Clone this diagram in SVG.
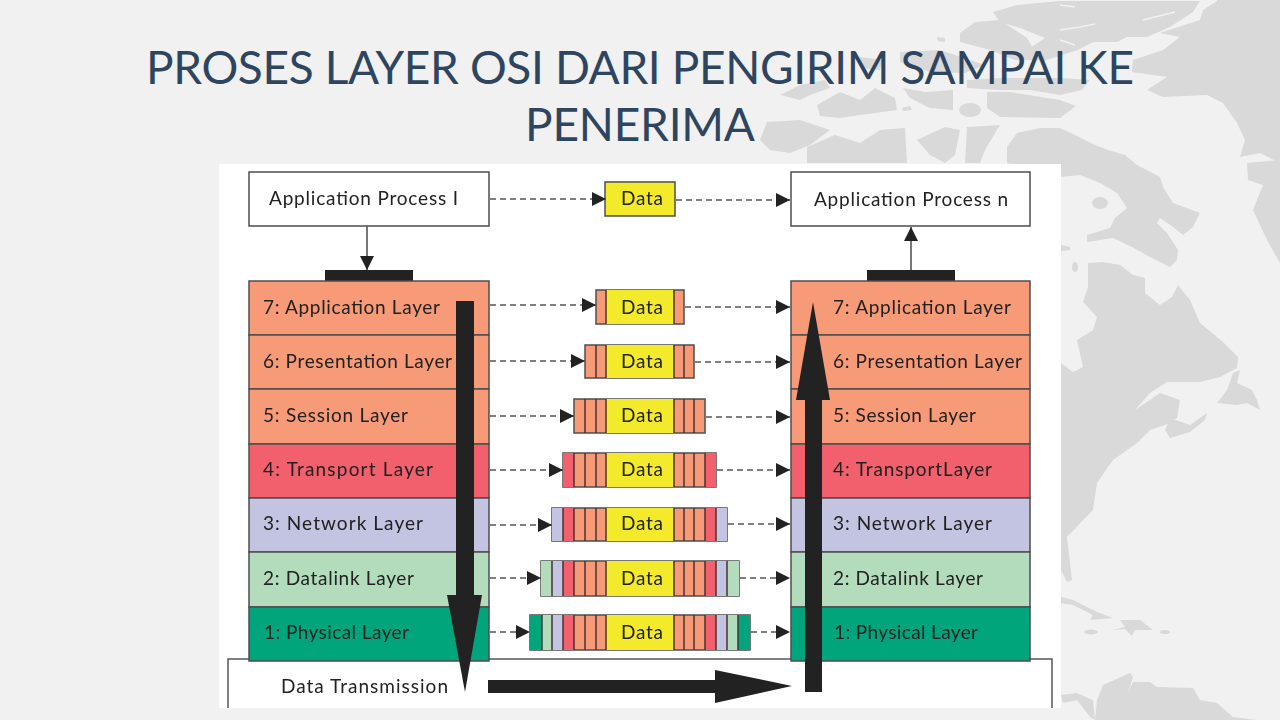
<svg xmlns="http://www.w3.org/2000/svg" width="1280" height="720" viewBox="0 0 1280 720">
<style>
.land{fill:#d9d9d9}
.chan{fill:none;stroke:#f1f1f1;stroke-width:1.5}
.ttl{font-family:Lato,"Liberation Sans",sans-serif;font-size:46px;fill:#2e4560}
.t{font-family:Lato,"Liberation Sans",sans-serif;font-size:19px;fill:#222}
.box{stroke:#4d4d4d;stroke-width:1.5}
.dash{stroke:#555;stroke-width:1.6;stroke-dasharray:6 4;fill:none}
.solid{stroke:#555;stroke-width:1.6;fill:none}
.div{stroke:#4a3230;stroke-width:1.5}
.big{fill:#222}
.o{fill:#f79a78}.r{fill:#f1606c}.p{fill:#c2c4e2}.g{fill:#b2dcbc}.e{fill:#04a57c}.y{fill:#f2ea2a}
</style>
<defs>
<marker id="ah" viewBox="0 0 14 14" refX="14" refY="7" markerWidth="14" markerHeight="14" markerUnits="userSpaceOnUse" orient="auto"><path d="M0 0L14 7L0 14Z" fill="#222"/></marker>
<filter id="soft" filterUnits="userSpaceOnUse" x="0" y="0" width="1280" height="720"><feGaussianBlur stdDeviation="0.5"/></filter>
</defs>
<rect width="1280" height="720" fill="#f1f1f1"/>
<g id="map" filter="url(#soft)">
<path class="land" d="M993 12L1017 5L1060 1L1200 1L1193 12L1170 27L1147 37L1127 37L1117 42L1093 42L1078 50L1040 62L1030 48L1045 38L1020 28L1000 22Z"/>
<path class="land" d="M960 33L975 22L1000 20L1027 38L1040 60L1015 60L990 50L960 42Z"/>
<path class="land" d="M1217 1L1203 10L1200 20L1160 33L1180 37L1163 50L1133 60L1132 72L1167 77L1147 90L1163 97L1207 95L1223 103L1237 123L1245 140L1240 157L1260 153L1280 163V0H1217Z"/>
<path class="land" d="M1280 160L1247 163L1248 180L1263 185L1253 210L1267 240L1280 263Z"/>
<path class="land" d="M967 80L1000 78L1060 78L1090 80L1082 90L1060 95L1030 90L1000 90L967 88Z"/>
<path class="land" d="M987 92L1010 92L1060 100L1076 106L1060 118L1000 117L987 108Z"/>
<path class="land" d="M900 52L940 50L985 65L965 73L930 72L900 62Z"/>
<path class="land" d="M860 57L883 60L880 70L860 68Z"/>
<path class="land" d="M937 37L945 38L945 42L938 41Z"/>
<ellipse class="land" cx="970" cy="110" rx="11" ry="7"/>
<path class="land" d="M903 88L925 92L953 90L953 110L930 108L910 98Z"/>
<path class="land" d="M817 105L840 92L860 100L875 88L895 98L897 110L860 115L840 118L820 116Z"/>
<path class="land" d="M780 95L800 85L825 80L830 88L810 95L800 100Z"/>
<path class="land" d="M902 108L910 106L912 110L903 111Z"/>
<path class="land" d="M767 122L800 120L830 130L810 145L790 153L770 150L760 140Z"/>
<path class="land" d="M807 147L835 135L860 143L880 130L905 128L907 163L807 163Z"/>
<path class="land" d="M917 140L945 127L960 130L955 155L945 163L930 155Z"/>
<path class="land" d="M967 127L1000 125L985 150L980 163L965 163Z"/>
<path class="land" d="M1007 147L1017 133L1040 128L1060 128L1075 135L1095 145L1108 150L1125 155L1137 165L1160 177L1163 187L1173 203L1200 213L1193 227L1183 235L1173 227L1160 218L1157 223L1167 233L1178 250L1177 260L1170 267L1150 257L1132 247L1113 238L1087 242L1087 235L1110 228L1115 218L1127 208L1117 193L1100 183L1080 175L1060 177L1040 170L1007 163Z"/>
<ellipse class="land" cx="1100" cy="203" rx="8" ry="6"/>
<path class="land" d="M1061 245L1070 247L1070 250L1061 251Z"/>
<ellipse class="land" cx="1075" cy="267" rx="3" ry="5"/>
<path class="land" d="M1088 263L1103 262L1120 265L1133 275L1145 278L1145 293L1160 305L1172 297L1178 285L1190 300L1200 323L1223 342L1238 357L1237 368L1220 377L1200 382L1167 382L1150 393L1135 410L1160 393L1180 400L1177 418L1165 425L1150 430L1137 443L1113 460L1097 483L1093 510L1067 537L1072 580L1067 582L1061 570V363L1073 372L1083 367L1077 340L1093 330L1097 317L1083 302L1088 287Z"/>
<path class="land" d="M1170 418L1190 425L1207 413L1205 420L1190 432L1170 438L1165 430Z"/>
<path class="land" d="M1217 403L1227 390L1233 373L1240 370L1237 383L1252 390L1257 400L1260 410L1247 403L1237 405Z"/>
<path class="land" d="M1061 597L1073 600L1097 612L1113 618L1090 620L1093 615L1073 605L1061 603Z"/>
<ellipse class="land" cx="1091" cy="632" rx="7" ry="2.5"/>
<path class="land" d="M1120 620L1140 620L1153 630L1135 630L1132 636L1125 629L1112 630L1125 627Z"/>
<ellipse class="land" cx="1165" cy="632" rx="5" ry="2"/>
<path class="land" d="M1095 720L1097 700L1103 685L1130 673L1133 677L1128 693L1133 682L1150 682L1157 687L1193 688L1200 700L1217 703L1233 717L1257 720Z"/>
<path class="land" d="M1061 695L1077 693L1093 700L1095 720L1090 717L1077 700L1063 703Z"/>
<path class="chan" d="M1060 30L1080 27L1095 24M1060 5L1075 7M1143 20L1175 12M1060 40L1075 45"/>
</g>
<g id="title">
<text class="ttl" x="146" y="84" textLength="988">PROSES LAYER OSI DARI PENGIRIM SAMPAI KE</text>
<text class="ttl" x="525" y="141" textLength="230">PENERIMA</text>
</g>
<g id="diagram" filter="url(#soft)">
<rect id="panel" x="219" y="164" width="842" height="544" fill="#fff"/>
<g id="data-transmission">
<path d="M228 708V659H1052V708" fill="#fff" stroke="#555" stroke-width="1.5"/>
<text class="t" x="281" y="693" textLength="167">Data Transmission</text>
</g>
<g id="app-process-1"><rect class="box" x="249" y="172" width="240" height="54" fill="#fff"/><text class="t" x="269" y="205" textLength="189">Application Process I</text></g>
<g id="app-process-n"><rect class="box" x="791" y="172" width="239" height="54" fill="#fff"/><text class="t" x="814" y="206" textLength="194">Application Process n</text></g>
<g id="sender-cap"><rect x="325" y="270" width="88" height="11" fill="#222"/></g>
<g id="receiver-cap"><rect x="867" y="270" width="88" height="11" fill="#222"/></g>
<g id="left-stack">
<g id="l7"><rect class="box o" x="249" y="281" width="240" height="54"/><text class="t" x="263" y="314" textLength="177">7: Application Layer</text></g>
<g id="l6"><rect class="box o" x="249" y="335" width="240" height="54"/><text class="t" x="263" y="368" textLength="189">6: Presentation Layer</text></g>
<g id="l5"><rect class="box o" x="249" y="389" width="240" height="55"/><text class="t" x="263" y="422" textLength="145">5: Session Layer</text></g>
<g id="l4"><rect class="box r" x="249" y="444" width="240" height="54"/><text class="t" x="263" y="476" textLength="170">4: Transport Layer</text></g>
<g id="l3"><rect class="box p" x="249" y="498" width="240" height="54"/><text class="t" x="263" y="530" textLength="160">3: Network Layer</text></g>
<g id="l2"><rect class="box g" x="249" y="552" width="240" height="55"/><text class="t" x="263" y="585" textLength="151">2: Datalink Layer</text></g>
<g id="l1"><rect class="box e" x="249" y="607" width="240" height="54"/><text class="t" x="264" y="639" textLength="145">1: Physical Layer</text></g>
</g>
<g id="right-stack">
<g id="r7"><rect class="box o" x="791" y="281" width="239" height="54"/><text class="t" x="833" y="314" textLength="178">7: Application Layer</text></g>
<g id="r6"><rect class="box o" x="791" y="335" width="239" height="54"/><text class="t" x="833" y="368" textLength="189">6: Presentation Layer</text></g>
<g id="r5"><rect class="box o" x="791" y="389" width="239" height="55"/><text class="t" x="833" y="422" textLength="143">5: Session Layer</text></g>
<g id="r4"><rect class="box r" x="791" y="444" width="239" height="54"/><text class="t" x="833" y="476" textLength="159">4: TransportLayer</text></g>
<g id="r3"><rect class="box p" x="791" y="498" width="239" height="54"/><text class="t" x="833" y="530" textLength="159">3: Network Layer</text></g>
<g id="r2"><rect class="box g" x="791" y="552" width="239" height="55"/><text class="t" x="833" y="585" textLength="150">2: Datalink Layer</text></g>
<g id="r1"><rect class="box e" x="791" y="607" width="239" height="54"/><text class="t" x="834" y="639" textLength="144">1: Physical Layer</text></g>
</g>
<g id="data-top"><rect class="box y" x="605" y="182" width="70" height="34"/><text class="t" x="621" y="205" textLength="42">Data</text></g>
<g id="data-7">
<rect class="box o" x="596" y="290" width="88" height="34"/><rect class="y" x="606" y="290" width="68" height="34"/>
<path class="div" d="M606 290v34M674 290v34"/><text class="t" x="621" y="314" textLength="42">Data</text></g>
<g id="data-6">
<rect class="box o" x="585" y="345" width="109" height="33"/><rect class="y" x="606" y="345" width="68" height="33"/>
<path class="div" d="M596 345v33M606 345v33M674 345v33M684 345v33"/><text class="t" x="621" y="368" textLength="42">Data</text></g>
<g id="data-5">
<rect class="box o" x="574" y="399" width="131" height="34"/><rect class="y" x="606" y="399" width="68" height="34"/>
<path class="div" d="M585 399v34M596 399v34M606 399v34M674 399v34M684 399v34M694 399v34"/><text class="t" x="621" y="422" textLength="42">Data</text></g>
<g id="data-4">
<rect class="box o" x="563" y="453" width="153" height="34"/><rect class="r" x="563" y="453" width="11" height="34"/><rect class="r" x="705" y="453" width="11" height="34"/><rect class="y" x="606" y="453" width="68" height="34"/>
<path class="div" d="M574 453v34M585 453v34M596 453v34M606 453v34M674 453v34M684 453v34M694 453v34M705 453v34"/><text class="t" x="621" y="476" textLength="42">Data</text></g>
<g id="data-3">
<rect class="box o" x="552" y="508" width="175" height="33"/><rect class="p" x="552" y="508" width="11" height="33"/><rect class="r" x="563" y="508" width="11" height="33"/><rect class="r" x="705" y="508" width="11" height="33"/><rect class="p" x="716" y="508" width="11" height="33"/><rect class="y" x="606" y="508" width="68" height="33"/>
<path class="div" d="M563 508v33M574 508v33M585 508v33M596 508v33M606 508v33M674 508v33M684 508v33M694 508v33M705 508v33M716 508v33"/><text class="t" x="621" y="530" textLength="42">Data</text></g>
<g id="data-2">
<rect class="box o" x="541" y="561" width="198" height="35"/><rect class="g" x="541" y="561" width="11" height="35"/><rect class="p" x="552" y="561" width="11" height="35"/><rect class="r" x="563" y="561" width="11" height="35"/><rect class="r" x="705" y="561" width="11" height="35"/><rect class="p" x="716" y="561" width="11" height="35"/><rect class="g" x="727" y="561" width="12" height="35"/><rect class="y" x="606" y="561" width="68" height="35"/>
<path class="div" d="M552 561v35M563 561v35M574 561v35M585 561v35M596 561v35M606 561v35M674 561v35M684 561v35M694 561v35M705 561v35M716 561v35M727 561v35"/><text class="t" x="621" y="585" textLength="42">Data</text></g>
<g id="data-1">
<rect class="box o" x="530" y="615" width="220" height="35"/><rect class="e" x="530" y="615" width="12" height="35"/><rect class="g" x="542" y="615" width="10" height="35"/><rect class="p" x="552" y="615" width="11" height="35"/><rect class="r" x="563" y="615" width="11" height="35"/><rect class="r" x="705" y="615" width="11" height="35"/><rect class="p" x="716" y="615" width="11" height="35"/><rect class="g" x="727" y="615" width="11" height="35"/><rect class="e" x="738" y="615" width="12" height="35"/><rect class="y" x="606" y="615" width="68" height="35"/>
<path class="div" d="M542 615v35M552 615v35M563 615v35M574 615v35M585 615v35M596 615v35M606 615v35M674 615v35M684 615v35M694 615v35M705 615v35M716 615v35M727 615v35M738 615v35"/><text class="t" x="621" y="639" textLength="42">Data</text></g>
<g id="connectors">
<path class="solid" d="M367 226V270" marker-end="url(#ah)"/>
<path class="solid" d="M911 270V227" marker-end="url(#ah)"/>
<path class="dash" d="M490 199H606" marker-end="url(#ah)"/>
<path class="dash" d="M676 200H790" marker-end="url(#ah)"/>
<path class="dash" d="M490 305H596" marker-end="url(#ah)"/>
<path class="dash" d="M685 307H790" marker-end="url(#ah)"/>
<path class="dash" d="M490 361H585" marker-end="url(#ah)"/>
<path class="dash" d="M695 362H790" marker-end="url(#ah)"/>
<path class="dash" d="M490 416H574" marker-end="url(#ah)"/>
<path class="dash" d="M706 417H790" marker-end="url(#ah)"/>
<path class="dash" d="M490 470H563" marker-end="url(#ah)"/>
<path class="dash" d="M717 470H790" marker-end="url(#ah)"/>
<path class="dash" d="M490 525H552" marker-end="url(#ah)"/>
<path class="dash" d="M728 524H790" marker-end="url(#ah)"/>
<path class="dash" d="M490 578H541" marker-end="url(#ah)"/>
<path class="dash" d="M740 578H790" marker-end="url(#ah)"/>
<path class="dash" d="M490 632H530" marker-end="url(#ah)"/>
<path class="dash" d="M751 632H790" marker-end="url(#ah)"/>
<path class="big" d="M456 301H474V595H482L465 692L447 595H456Z"/>
<path class="big" d="M805 692V400H796L813 302L830 400H822V692Z"/>
<path class="big" d="M488 680H715V670L792 686L715 703V693H488Z"/>
</g>
</g>
</svg>
